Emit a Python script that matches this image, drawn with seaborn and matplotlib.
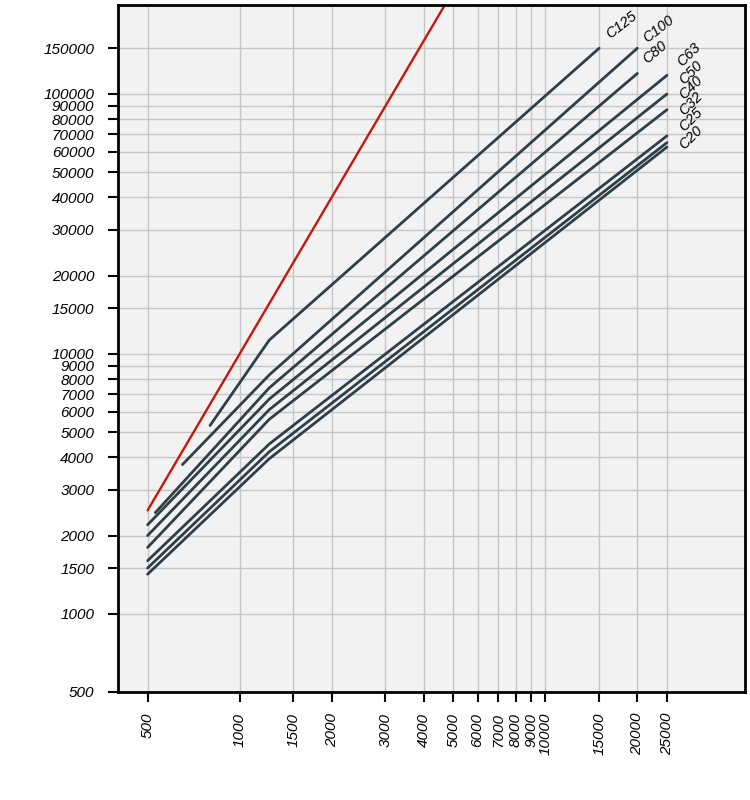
import matplotlib
matplotlib.use("Agg")
import matplotlib.pyplot as plt
from matplotlib.ticker import FixedLocator, NullLocator
import seaborn as sns
import pandas as pd

# ---- data ----
curve_names = ["C125", "C100", "C80", "C63", "C50", "C40", "C32", "C25", "C20"]
c125_x = [800, 1250, 15000]
c125_y = [5300, 11300, 150000]
c100_x = [650, 1250, 20000]
c100_y = [3750, 8300, 150000]
c80_x = [530, 1250, 20000]
c80_y = [2450, 7400, 120000]
c63_x = [500, 1250, 25000]
c63_y = [2200, 6700, 118000]
c50_x = [500, 1250, 25000]
c50_y = [2000, 6100, 100000]
c40_x = [500, 1250, 25000]
c40_y = [1800, 5600, 87000]
c32_x = [500, 1250, 25000]
c32_y = [1600, 4500, 69000]
c25_x = [500, 1250, 25000]
c25_y = [1500, 4200, 65000]
c20_x = [500, 1250, 25000]
c20_y = [1420, 3950, 62500]

limit_x = [500, 1000, 2000, 3000, 5000]
limit_y = [2500, 10000, 40000, 90000, 250000]

x_ticks = [500, 1000, 1500, 2000, 3000, 4000, 5000, 6000, 7000, 8000, 9000,
           10000, 15000, 20000, 25000]
y_ticks = [500, 1000, 1500, 2000, 3000, 4000, 5000, 6000, 7000, 8000, 9000,
           10000, 15000, 20000, 30000, 40000, 50000, 60000, 70000, 80000,
           90000, 100000, 150000]

# label placement (styling, not data): offset in points and rotation
label_offsets = {"C125": (3, 5), "C100": (2, 2), "C80": (2, 5),
                 "C63": (5.5, 4.6), "C50": (7, 5), "C40": (7, 5.5),
                 "C32": (7, 12.5), "C25": (7, 6.1), "C20": (7, -3.5)}
label_rot = {"C125": 38, "C100": 38, "C80": 40, "C63": 45, "C50": 45,
             "C40": 45, "C32": 45, "C25": 45, "C20": 45}

xs = [c125_x, c100_x, c80_x, c63_x, c50_x, c40_x, c32_x, c25_x, c20_x]
ys = [c125_y, c100_y, c80_y, c63_y, c50_y, c40_y, c32_y, c25_y, c20_y]

rows = []
for name, xx, yy in zip(curve_names, xs, ys):
    for a, b in zip(xx, yy):
        rows.append({"curve": name, "x": a, "y": b})
df = pd.DataFrame(rows)
df_limit = pd.DataFrame({"x": limit_x, "y": limit_y, "curve": "limit"})

sns.set_theme(style="white")
plt.rcParams["font.family"] = ["Liberation Sans", "DejaVu Sans"]
plt.rcParams["text.color"] = "black"
plt.rcParams["xtick.color"] = "black"
plt.rcParams["ytick.color"] = "black"

fig = plt.figure(figsize=(7.5, 8), dpi=100)
ax = fig.add_axes([118 / 750, 108 / 800, (745 - 118) / 750, (692 - 5) / 800])
ax.set_facecolor("#f2f2f2")

dark = "#2e3f47"
sns.lineplot(data=df, x="x", y="y", hue="curve", hue_order=curve_names,
             palette=[dark] * len(curve_names), estimator=None, sort=False,
             legend=False, linewidth=2.0, ax=ax)
sns.lineplot(data=df_limit, x="x", y="y", color="#c3180b", estimator=None,
             sort=False, legend=False, linewidth=1.7, ax=ax)

ax.set_xscale("log")
ax.set_yscale("log")
ax.set_xlim(400, 45000)
ax.set_ylim(500, 220000)

ax.xaxis.set_major_locator(FixedLocator(x_ticks))
ax.xaxis.set_minor_locator(NullLocator())
ax.yaxis.set_major_locator(FixedLocator(y_ticks))
ax.yaxis.set_minor_locator(NullLocator())
ax.set_xticklabels([str(v) for v in x_ticks], rotation=90, fontstyle="italic",
                   fontsize=11, color="black")
ax.set_yticklabels([str(v) for v in y_ticks], fontstyle="italic",
                   fontsize=11, color="black")
ax.tick_params(axis="both", which="major", direction="out", length=7,
               width=1.5, color="black", bottom=True, left=True)
ax.tick_params(axis="y", pad=10)
ax.tick_params(axis="x", pad=8)

ax.grid(True, which="major", color="#c6c6c6", linewidth=1.0)
ax.set_axisbelow(True)
for s in ax.spines.values():
    s.set_color("black")
    s.set_linewidth(2.0)

ax.set_xlabel("")
ax.set_ylabel("")

for name, xx, yy in zip(curve_names, xs, ys):
    dx, dy = label_offsets[name]
    ax.annotate(name, xy=(xx[-1], yy[-1]), xytext=(dx, dy),
                textcoords="offset points", ha="left", va="bottom",
                rotation=label_rot[name], fontsize=10.5, fontstyle="italic",
                color="black")

fig.savefig("out.png", dpi=100, facecolor="white")
